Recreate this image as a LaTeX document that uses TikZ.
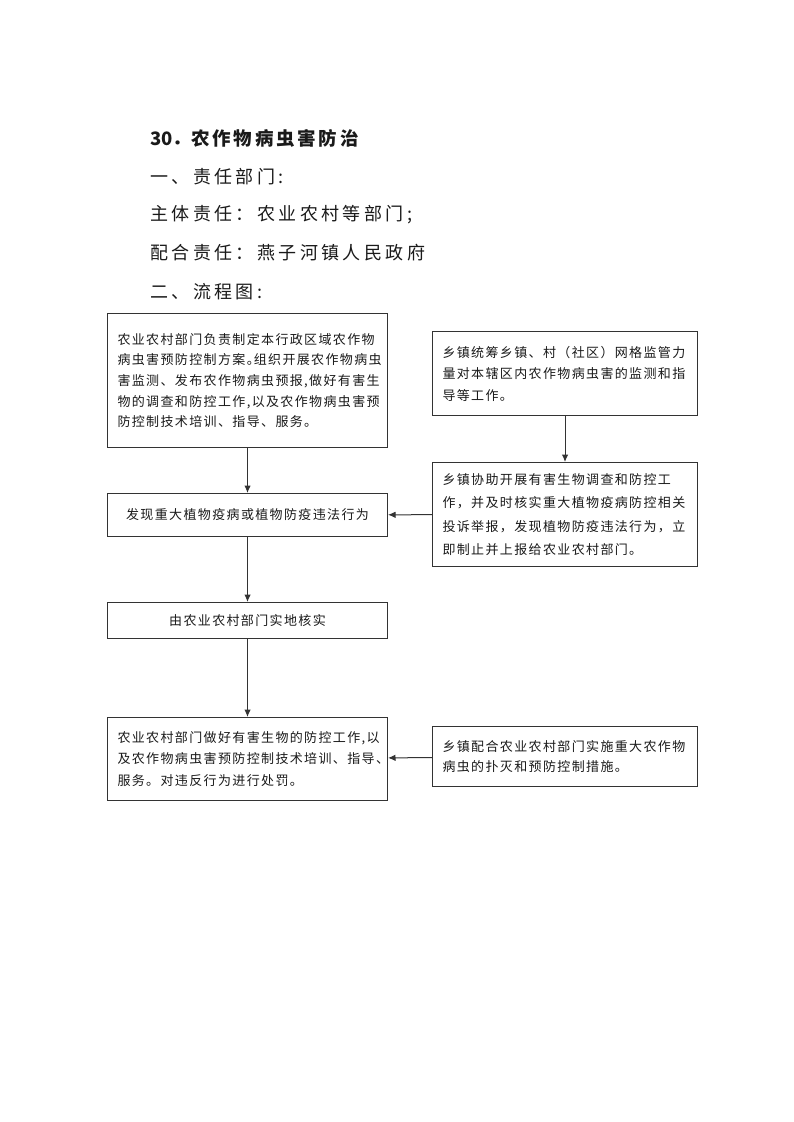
\documentclass[tikz,border=0pt]{standalone}
\usepackage{fontspec}
\setmainfont{Noto Sans CJK SC}
\newfontfamily\titlefont[LetterSpace=15]{Noto Sans CJK SC}
\newfontfamily\headfont[LetterSpace=19]{Noto Sans CJK SC}
\newfontfamily\boxfont[LetterSpace=10.5]{Noto Sans CJK SC}
\usetikzlibrary{arrows.meta, positioning}
\definecolor{EdgeGray}{HTML}{333333}
\definecolor{InkBlack}{HTML}{1A1A1A}
\tikzset{
  titleline/.style={anchor=west, inner sep=0pt, text=InkBlack, font=\bfseries\fontsize{18.5}{20}\selectfont},
  headline/.style={anchor=west, inner sep=0pt, text=InkBlack, font=\headfont\fontsize{18}{20}\selectfont},
  stepbox/.style={draw=EdgeGray, line width=1pt, fill=white, align=left, text width=#1, inner xsep=10pt, inner ysep=0pt, text=InkBlack, font=\boxfont\fontsize{13}{21.5}\selectfont},
  stepbox/.default=260pt,
  arrow/.style={-{Latex[length=7.5pt, width=6.5pt]}, line width=1pt, draw=EdgeGray}
}
\begin{document}
\begin{tikzpicture}[x=1pt, y=1pt]
\fill[white] (0,0) rectangle (793,-1122);
\useasboundingbox (0,0) rectangle (793,-1122);

% heading
\node[titleline] (title) at (150,-138) {30．{\titlefont\bfseries 农作物病虫害防治}};
\node[headline] (dutyhead) at (150,-177) {一、责任部门:};
\node[headline] (leadduty) at (150,-215) {主体责任：农业农村等部门;};
\node[headline] (coopduty) at (150,-253) {配合责任：燕子河镇人民政府};
\node[headline] (flowhead) at (150,-292) {二、流程图:};

% left column
\node[stepbox, anchor=north west, minimum height=134pt, font=\boxfont\fontsize{13}{20.7}\selectfont] (plan) at (107,-313) {农业农村部门负责制定本行政区域农作物\\病虫害预防控制方案。\kern-6pt组织开展农作物病虫\\害监测、发布农作物病虫预报,做好有害生\\物的调查和防控工作,以及农作物病虫害预\\防控制技术培训、指导、服务。};
\node[stepbox, align=center, minimum height=43pt, below=45pt of plan] (find) {发现重大植物疫病或植物防疫违法行为};
\node[stepbox, align=center, minimum height=36pt, below=65pt of find] (verify) {由农业农村部门实地核实};
\node[stepbox, minimum height=83pt, below=78pt of verify] (punish) {农业农村部门做好有害生物的防控工作,以\\及农作物病虫害预防控制技术培训、指导、\\服务。对违反行为进行处罚。};

% right column
\node[stepbox=245pt, anchor=north west, minimum height=84pt] (grid) at (432,-331) {乡镇统筹乡镇、村（社区）网格监管力\\量对本辖区内农作物病虫害的监测和指\\导等工作。};
\node[stepbox=245pt, minimum height=104pt, below=46pt of grid, font=\boxfont\fontsize{13}{23.3}\selectfont] (assist) {乡镇协助开展有害生物调查和防控工\\作，并及时核实重大植物疫病防控相关\\投诉举报，发现植物防疫违法行为，立\\即制止并上报给农业农村部门。};
\node[stepbox=245pt, anchor=north west, minimum height=60pt, font=\boxfont\fontsize{13}{20}\selectfont] (coop) at (432,-726) {乡镇配合农业农村部门实施重大农作物\\病虫的扑灭和预防控制措施。};

\draw[arrow] (plan) -- (find);
\draw[arrow] (find) -- (verify);
\draw[arrow] (verify) -- (punish);
\draw[arrow] (grid) -- (assist);
\draw[arrow] (assist) -- (find);
\draw[arrow] (coop) -- (punish);
\end{tikzpicture}
\end{document}
